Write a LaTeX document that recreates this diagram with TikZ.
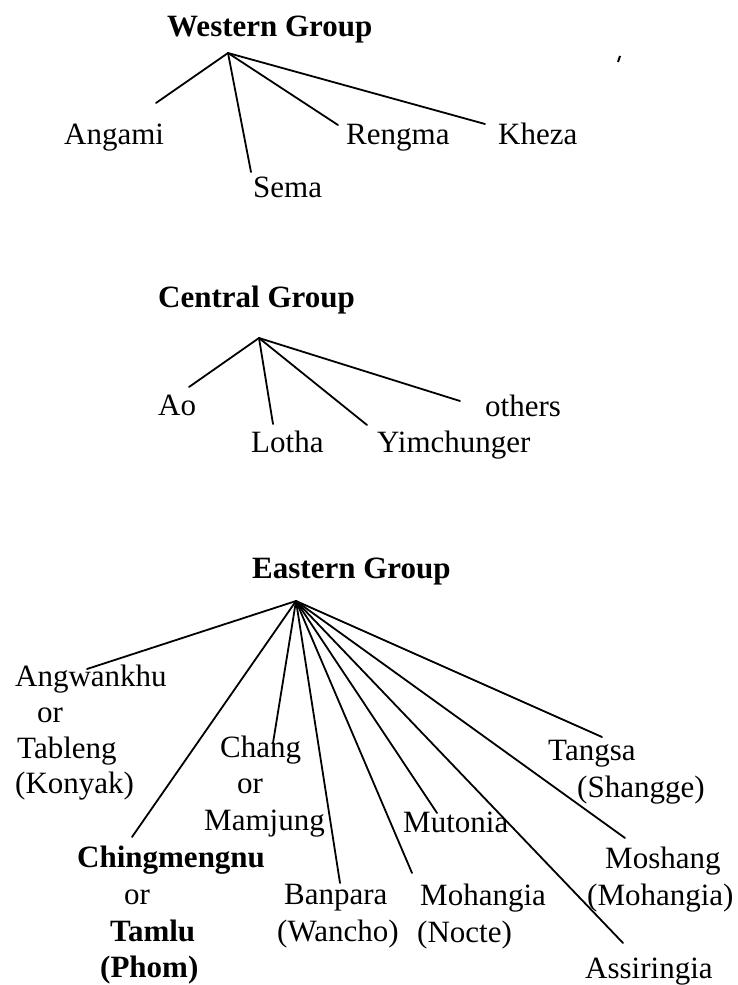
\documentclass[tikz,border=0pt]{standalone}
\usepackage{fontspec}
\setmainfont{Liberation Serif}
\begin{document}
\begin{tikzpicture}[x=1pt,y=-1pt,
  lbl/.style={anchor=base west,inner sep=0pt,font=\fontsize{31}{36}\selectfont},
  blbl/.style={lbl,font=\fontsize{31}{36}\selectfont\bfseries},
  edge/.style={line width=1.8pt,line cap=round}]
\useasboundingbox (0,0) rectangle (737,985);
% ---------- Western group
\node[blbl] (wg) at (167,36) {Western Group};
\coordinate (wa) at (228,53);
\node[lbl] (angami) at (64,144) {Angami};
\node[lbl] (sema) at (253,197) {Sema};
\node[lbl] (rengma) at (346,144) {Rengma};
\node[lbl] (kheza) at (498,144) {Kheza};
\coordinate (wangami) at (156,103);
\coordinate (wsema) at (251,172);
\coordinate (wrengma) at (338,125);
\coordinate (wkheza) at (485,124);
\foreach \e in {wangami,wsema,wrengma,wkheza} \draw[edge] (wa) -- (\e);
\coordinate (speckA) at (618,62);
\coordinate (speckB) at (620,56);
\draw[line width=2pt] (speckA) -- (speckB);
% ---------- Central group
\node[blbl] (cg) at (158,307) {Central Group};
\coordinate (ca) at (259,338);
\node[lbl] (ao) at (158,415) {Ao};
\node[lbl] (lotha) at (251,452) {Lotha};
\node[lbl] (yim) at (377,452) {Yimchunger};
\node[lbl] (others) at (485,416) {others};
\coordinate (cao) at (189,387);
\coordinate (clotha) at (273,424);
\coordinate (cyim) at (367,425);
\coordinate (cothers) at (460,401);
\foreach \e in {cao,clotha,cyim,cothers} \draw[edge] (ca) -- (\e);
% ---------- Eastern group
\node[blbl] (eg) at (252,578) {Eastern Group};
\coordinate (ea) at (296,601);
\node[lbl] (ang1) at (15,686) {Angwankhu};
\node[lbl] (ang2) at (37,722) {or};
\node[lbl] (ang3) at (17,758) {Tableng};
\node[lbl] (ang4) at (15,793) {(Konyak)};
\node[lbl] (chang1) at (220,757) {Chang};
\node[lbl] (chang2) at (237,793) {or};
\node[lbl] (chang3) at (204,830) {Mamjung};
\node[blbl] (ching1) at (77,867) {Chingmengnu};
\node[lbl] (ching2) at (124,904) {or};
\node[blbl] (ching3) at (110,941) {Tamlu};
\node[blbl] (ching4) at (100,977) {(Phom)};
\node[lbl] (ban1) at (284,904) {Banpara};
\node[lbl] (ban2) at (277,941) {(Wancho)};
\node[lbl] (mut) at (403,832) {Mutonia};
\node[lbl] (moh1) at (420,905) {Mohangia};
\node[lbl] (moh2) at (417,942) {(Nocte)};
\node[lbl] (tan1) at (548,760) {Tangsa};
\node[lbl] (tan2) at (577,797) {(Shangge)};
\node[lbl] (mos1) at (605,868) {Moshang};
\node[lbl] (mos2) at (587,905) {(Mohangia)};
\node[lbl] (ass) at (585,978) {Assiringia};
\coordinate (eang) at (87,669);
\coordinate (eching) at (132,837);
\coordinate (echang) at (273,743);
\coordinate (eban) at (340,883);
\coordinate (emoh) at (412,873);
\coordinate (emut) at (437,813);
\coordinate (eass) at (623,943);
\coordinate (emos) at (625,838);
\coordinate (etan) at (602,737);
\foreach \e in {eang,eching,echang,eban,emoh,emut,eass,emos,etan} \draw[edge] (ea) -- (\e);
\end{tikzpicture}
\end{document}
